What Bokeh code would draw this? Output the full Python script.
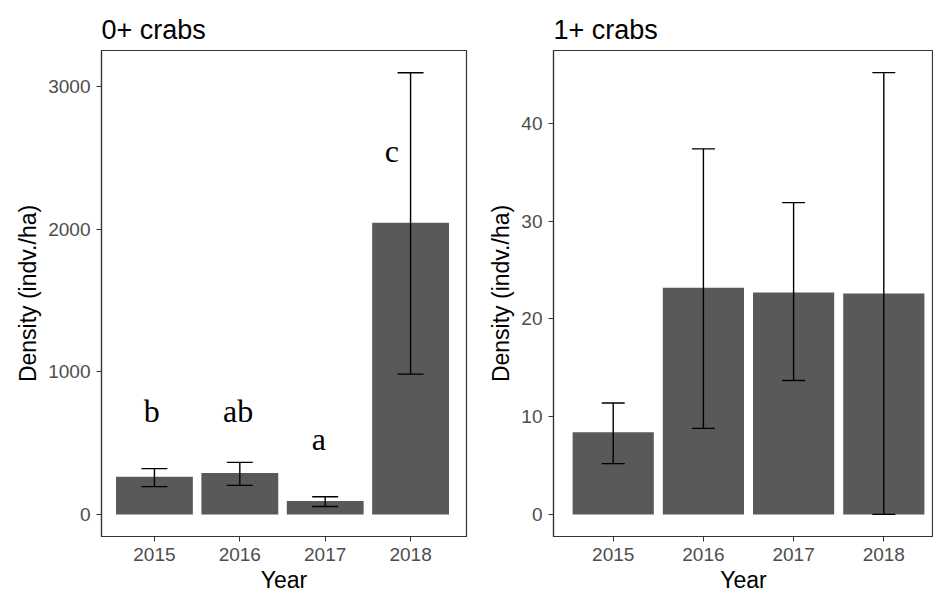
from bokeh.plotting import figure
from bokeh.models import Range1d, FixedTicker, Whisker, ColumnDataSource, TeeHead
from bokeh.layouts import row
from bokeh.embed import file_html
from bokeh.resources import INLINE
from bokeh.core.properties import value

# ---- data ----
years = ["2015", "2016", "2017", "2018"]

juv_mean = [265, 290, 94, 2047]
juv_lo = [195, 204, 56, 984]
juv_hi = [321, 365, 124, 3099]
juv_ticks = [0, 1000, 2000, 3000]

adult_mean = [8.4, 23.2, 22.7, 22.6]
adult_lo = [5.2, 8.8, 13.7, 0.0]
adult_hi = [11.4, 37.4, 31.9, 45.2]
adult_ticks = [0, 10, 20, 30, 40]

letters = ["b", "ab", "a", "c"]
letter_x = [0.97, 1.98, 2.925, 3.78]
letter_y = [725, 725, 530, 2550]

SANS = "Liberation Sans"
BORDER = "#333333"


def make_panel(title, means, lo, hi, yticks, yr, xr, width, bl, br, cap):
    p = figure(width=width, height=600, output_backend="svg", toolbar_location=None,
               x_range=Range1d(*xr), y_range=Range1d(*yr),
               min_border_left=bl, min_border_right=br,
               min_border_top=50, min_border_bottom=64)
    x = [i + 1 for i in range(len(years))]
    src = ColumnDataSource(dict(x=x, top=means, lo=lo, hi=hi))
    p.vbar(x="x", top="top", bottom=0, width=0.9, source=src,
           fill_color="#595959", line_color=None)
    p.add_layout(Whisker(base="x", upper="hi", lower="lo", source=src, level="overlay",
                         line_color="black", line_width=1.4,
                         upper_head=TeeHead(size=cap, line_color="black", line_width=1.4),
                         lower_head=TeeHead(size=cap, line_color="black", line_width=1.4)))

    p.title.text = title
    p.title.text_font = SANS
    p.title.text_font_size = "27px"
    p.title.text_font_style = "normal"
    p.title.text_color = "black"
    p.title.align = "left"
    p.title.standoff = 12

    p.xgrid.visible = False
    p.ygrid.visible = False
    p.outline_line_color = BORDER
    p.outline_line_width = 1.2
    p.background_fill_color = "white"
    p.border_fill_color = "white"

    p.xaxis.ticker = FixedTicker(ticks=x)
    p.xaxis.major_label_overrides = {xi: y for xi, y in zip(x, years)}
    p.yaxis.ticker = FixedTicker(ticks=yticks)
    p.xaxis.axis_label = "Year"
    p.yaxis.axis_label = "Density (indv./ha)"
    for ax in (p.xaxis, p.yaxis):
        ax.axis_line_color = BORDER
        ax.axis_line_width = 1.2
        ax.major_tick_line_color = BORDER
        ax.major_tick_in = 0
        ax.major_tick_out = 5
        ax.minor_tick_line_color = None
        ax.major_label_text_font = SANS
        ax.major_label_text_font_size = "19px"
        ax.major_label_text_color = "#4D4D4D"
        ax.axis_label_text_font = SANS
        ax.axis_label_text_font_size = "23px"
        ax.axis_label_text_font_style = "normal"
        ax.axis_label_text_color = "black"
    p.xaxis.major_label_standoff = 6
    p.xaxis.axis_label_standoff = 3
    p.yaxis.major_label_standoff = 6
    p.yaxis.axis_label_standoff = 4
    return p


p1 = make_panel("0+ crabs", juv_mean, juv_lo, juv_hi, juv_ticks,
                (-155, 3255), (0.38, 4.655), 476, 101, 10, 26)
p1.text(x=letter_x, y=letter_y, text=letters, text_font=value("Liberation Serif"),
        text_font_size="32px", text_align="center", text_baseline="alphabetic",
        text_color="black")

p2 = make_panel("1+ crabs", adult_mean, adult_lo, adult_hi, adult_ticks,
                (-2.26, 47.46), (0.338, 4.551), 457, 77, 0, 23)

layout = row(p1, p2)
open("out.html", "w").write(file_html(layout, INLINE))
